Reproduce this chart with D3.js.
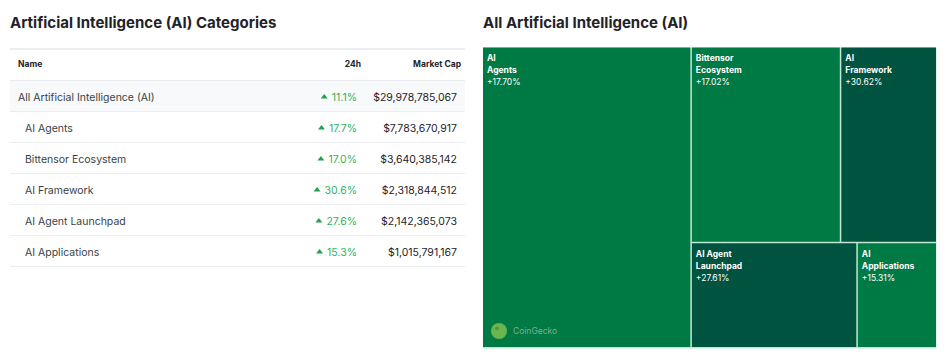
<!DOCTYPE html>
<html>
<head>
<meta charset="utf-8">
<script src="https://cdn.jsdelivr.net/npm/d3@7"></script>
<style>
  html, body { margin: 0; padding: 0; background: #fff; }
  svg { display: block; font-family: Inter, "Noto Sans", sans-serif; }
</style>
</head>
<body>
<svg id="chart" width="948" height="356"></svg>
<script>
// ---- data ----
const names = ["All Artificial Intelligence (AI)", "AI Agents", "Bittensor Ecosystem", "AI Framework", "AI Agent Launchpad", "AI Applications"];
const change24h = [11.1, 17.7, 17.0, 30.6, 27.6, 15.3];
const marketCap = [29978785067, 7783670917, 3640385142, 2318844512, 2142365073, 1015791167];
const treemapChange = [null, 17.70, 17.02, 30.62, 27.61, 15.31];
const treemapLabels = [null, ["AI", "Agents"], ["Bittensor", "Ecosystem"], ["AI", "Framework"], ["AI Agent", "Launchpad"], ["AI", "Applications"]];
const headers = ["Name", "24h", "Market Cap"];
// tiling groups: index lists of sub-categories
const tileGroups = [[1], [[2, 3], [4, 5]]];

const svg = d3.select("#chart");

// ---- left: table ----
svg.append("text").attr("x", 10).attr("y", 28)
  .attr("font-size", 15).attr("font-weight", 700).attr("fill", "#1f2329")
  .text("Artificial Intelligence (AI) Categories");

const tX0 = 10, tX1 = 465;
const headY0 = 49, headY1 = 80, rowH = 31;
const rowY = d3.scaleLinear().domain([0, 1]).range([headY1 + 1, headY1 + 1 + rowH]);

svg.append("rect").attr("x", tX0).attr("y", headY0 - 1).attr("width", tX1 - tX0).attr("height", 2).attr("fill", "#eceef1");
svg.append("rect").attr("x", tX0).attr("y", headY1).attr("width", tX1 - tX0).attr("height", 1).attr("fill", "#e8eaed");

const colName = 18, col24 = 361, colCap = 461;
const headG = svg.append("g").attr("font-size", 8.5).attr("font-weight", 700).attr("fill", "#1f2329");
headG.append("text").attr("x", colName).attr("y", 67).text(headers[0]);
headG.append("text").attr("x", col24).attr("y", 67).attr("text-anchor", "end").text(headers[1]);
headG.append("text").attr("x", colCap).attr("y", 67).attr("text-anchor", "end").text(headers[2]);

const rows = svg.append("g").selectAll("g").data(names).join("g")
  .attr("transform", (d, i) => `translate(0,${rowY(i)})`);
rows.filter((d, i) => i === 0).append("rect")
  .attr("x", tX0).attr("y", 0).attr("width", tX1 - tX0).attr("height", rowH - 1).attr("fill", "#f7f9fb");
rows.append("rect").attr("x", tX0).attr("y", rowH - 1).attr("width", tX1 - tX0).attr("height", 1).attr("fill", "#ebedf0");
rows.append("text").attr("x", (d, i) => i === 0 ? colName : 25).attr("y", 19.5)
  .attr("font-size", 10.5).attr("fill", "#3a3f45").text(d => d);
const fmtPct = d3.format(".1f");
const fmtCap = d3.format("$,");
rows.append("text").attr("x", 357).attr("y", 19.5).attr("text-anchor", "end")
  .attr("font-size", 10.5).attr("fill", "#2eb35c").text((d, i) => fmtPct(change24h[i]) + "%")
  .each(function () {
    const w = this.getComputedTextLength();
    const tx = 357 - w - 4;
    d3.select(this.parentNode).append("path")
      .attr("d", `M${tx - 7},${18.5 - 1}L${tx},${18.5 - 1}L${tx - 3.5},${18.5 - 5.5}Z`)
      .attr("fill", "#1fa34f");
  });
rows.append("text").attr("x", 457).attr("y", 19.5).attr("text-anchor", "end")
  .attr("font-size", 10.5).attr("fill", "#1f2329").text((d, i) => fmtCap(marketCap[i]));

// ---- right: treemap ----
svg.append("text").attr("x", 483).attr("y", 28)
  .attr("font-size", 15).attr("font-weight", 700).attr("fill", "#1f2329")
  .text("All Artificial Intelligence (AI)");

function build(g) {
  if (Array.isArray(g)) return { children: g.map(build) };
  return { idx: g, name: names[g], value: marketCap[g] };
}
const root = d3.hierarchy({ children: tileGroups.map(build) })
  .sum(d => d.value || 0);

const mX0 = 483, mY0 = 47.5, mX1 = 936.5, mY1 = 347;
d3.treemap().tile(d3.treemapSliceDice).size([mX1 - mX0, mY1 - mY0]).round(false)(root);

const color = d3.scaleThreshold().domain([25]).range(["#007a45", "#00533e"]);

svg.append("rect").attr("x", mX0).attr("y", mY0).attr("width", mX1 - mX0).attr("height", mY1 - mY0 + 1.5).attr("fill", "#bfe9d2");
const cells = svg.append("g").attr("transform", `translate(${mX0},${mY0})`)
  .selectAll("g").data(root.leaves()).join("g")
  .attr("transform", d => `translate(${d.x0},${d.y0})`);
cells.append("rect")
  .attr("width", d => d.x1 - d.x0 - (d.x1 < mX1 - mX0 - 1 ? 1.5 : 0.5))
  .attr("height", d => d.y1 - d.y0 - (d.y1 < mY1 - mY0 - 1 ? 1.5 : 0))
  .attr("fill", d => color(treemapChange[d.data.idx]));
cells.each(function (d) {
  const g = d3.select(this);
  const lines = treemapLabels[d.data.idx];
  lines.forEach((l, k) => {
    g.append("text").attr("x", 4).attr("y", 13.5 + k * 12)
      .attr("font-size", 8.5).attr("font-weight", 700).attr("fill", "#ffffff").text(l);
  });
  g.append("text").attr("x", 4).attr("y", 13.5 + lines.length * 12)
    .attr("font-size", 8.5).attr("fill", "#ffffff")
    .text("+" + d3.format(".2f")(treemapChange[d.data.idx]) + "%");
});

// watermark
const wm = svg.append("g").attr("transform", "translate(499,331)");
wm.append("circle").attr("r", 8).attr("fill", "#7cc04f").attr("opacity", 0.85);
wm.append("circle").attr("cx", -2).attr("cy", -2.5).attr("r", 2).attr("fill", "#4d8a3a").attr("opacity", 0.7);
wm.append("text").attr("x", 14).attr("y", 3).attr("font-size", 8.5).attr("fill", "#7fb08f").text("CoinGecko");
</script>
</body>
</html>
